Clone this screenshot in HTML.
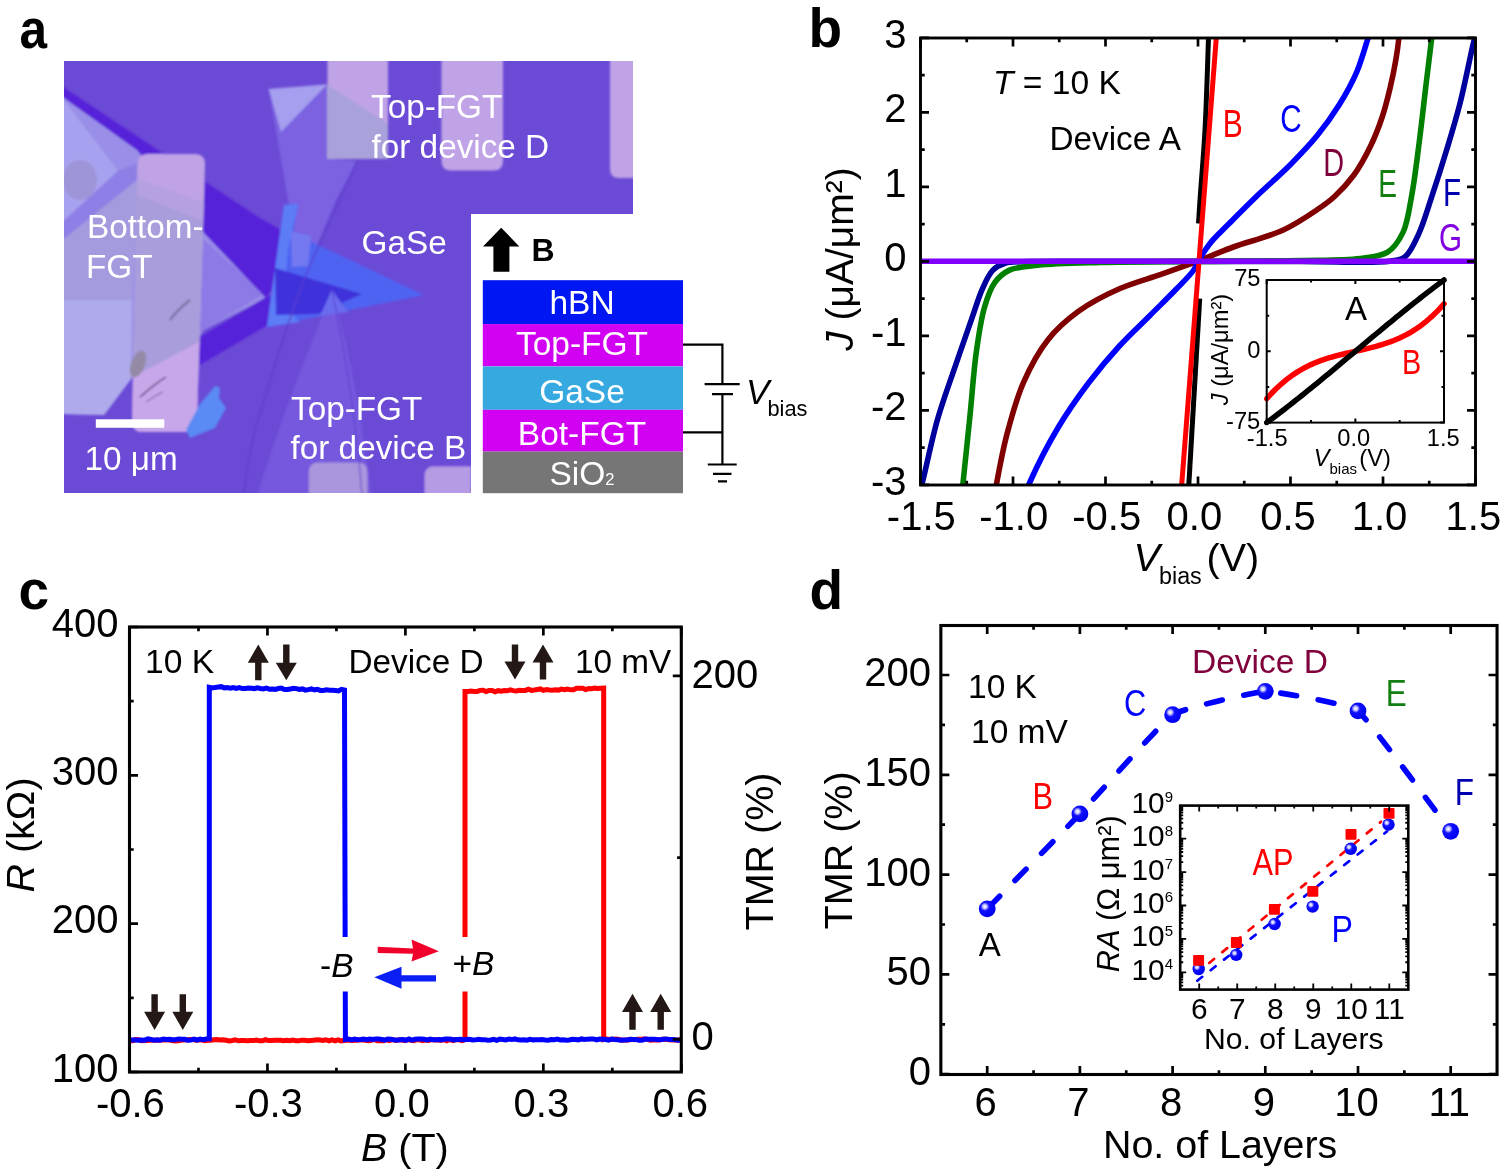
<!DOCTYPE html>
<html><head><meta charset="utf-8"><title>Figure</title>
<style>html,body{margin:0;padding:0;background:#fff;}body{width:1500px;height:1174px;overflow:hidden;}svg{display:block;will-change:transform;}text{font-family:"Liberation Sans",sans-serif;}</style>
</head><body>
<svg width="1500" height="1174" viewBox="0 0 1500 1174">
<rect width="1500" height="1174" fill="#fff"/>
<defs><clipPath id="cmic"><rect x="64" y="61" width="569" height="432"/></clipPath><filter id="blur1" x="-5%" y="-5%" width="110%" height="110%"><feGaussianBlur stdDeviation="1.2"/></filter><filter id="blur2" x="-5%" y="-5%" width="110%" height="110%"><feGaussianBlur stdDeviation="2.5"/></filter></defs>
<g clip-path="url(#cmic)">
<rect x="60" y="57" width="580" height="440" fill="#6b4ad6"/>
<g filter="url(#blur1)"><path d="M331.8,290 C318,330 290,390 256,500 L372,500 C362,420 350,350 331.8,290 Z" fill="#7459de"/><polygon points="268.6,89 327,84 327,159 357,161 336,200 317,245 300,262 289,205" fill="#7c62e1"/><polygon points="268.6,89 327,84.5 281,132" fill="#a69eee"/><polygon points="60,95 137,150 204,233 266,298 204,330 196,341 131,379 104,415 60,414" fill="#9a8fe8"/><polygon points="60,95 118,171 60,225" fill="#a7a2ef"/><polygon points="60,300 132,300 131,379 104,415 60,414" fill="#aeaaec"/><polygon points="60,240 137,178 137,190 132,300 60,300" fill="#a49bde"/><polygon points="60,224 118,171 137,163 137,180 60,242" fill="#8e7fe6"/><ellipse cx="80" cy="180" rx="17" ry="20" fill="#9d95d8"/><polygon points="200,236 264,294 200,332" fill="#8e7ae6"/><polygon points="60,85 137,136 204,181 260,218 292,236 292,262 266,298 204,233 137,150 60,95" fill="#5723d9"/><polygon points="195,340 266,297 292,290 292,322 266,326 195,368" fill="#5723d9"/><polygon points="267,327 284,205 298,204 293,233 424,295" fill="#5063f2"/><polygon points="267,327 284,205 298,204 288,250 283,305 300,322" fill="#5b7df6"/><polygon points="275,268 362,294 318,314 276,315" fill="#4033da"/><polygon points="291,231 311,236 308,266 292,267" fill="#7579f0"/><polygon points="331.8,290 320,316 348,312" fill="#6a6cef"/><clipPath id="celL"><path d="M137.5,164 Q137.5,154 147.5,154 L195,154 Q205,154 205,164 L197,420 Q196,432 186,432 L142,432 Q132,432 132,420 Z"/></clipPath><g clip-path="url(#celL)"><rect x="120" y="150" width="100" height="290" fill="#c0a3e6"/><polygon points="120,172 210,205 210,330 120,385" fill="#b5a0e2"/><polygon points="120,188 210,224 210,338 120,385" fill="#a99ddb"/><path d="M120,384 L210,336 L210,440 L120,440 Z" fill="#c7a7ea"/></g><path d="M327.5,55 L388,55 L388,148 Q388,159 378,159 L337,159 Q327.5,159 327.5,149 Z" fill="#c0a3e6"/><polygon points="327,84.5 388,124 388,159 327,159" fill="#a9a1d9"/><path d="M441.5,55 L503,55 L503,161 Q503,170.6 493.5,170.6 L451,170.6 Q441.5,170.6 441.5,161 Z" fill="#c0a3e6"/><path d="M610,55 L640,55 L640,178 L619,178 Q610,178 610,169 Z" fill="#c0a3e6"/><path d="M308.8,472 Q308.8,462.5 318.3,462.5 L358,462.5 Q367.5,462.5 367.5,472 L367.5,500 L308.8,500 Z" fill="#a996dc"/><path d="M424.4,476 Q424.4,466.3 434,466.3 L471,466.3 L471,500 L424.4,500 Z" fill="#b59be3"/><ellipse cx="138" cy="364" rx="7" ry="14" transform="rotate(20 138 364)" fill="#948aa6"/><path d="M140,397 C148,390 156,383 166,377" stroke="#4a2a5e" stroke-width="1.4" fill="none"/><path d="M146,402 C152,398 158,394 163,392" stroke="#5a3a70" stroke-width="0.9" fill="none"/><path d="M170,320 C176,312 182,306 190,300" stroke="#6a5f8a" stroke-width="2.2" fill="none" opacity="0.7"/><polygon points="186,430 200,404 215,386 220,388 219,398 226,408 215,428 190,438" fill="#5a8af3"/><path d="M357,161 C340,200 318,245 300,290 C285,330 270,380 255,430 C250,450 246,475 244,495" stroke="#5b3ccb" stroke-width="1.2" fill="none"/><path d="M331.8,290 C345,350 356,420 362,495" stroke="#5b3ccb" stroke-width="1" fill="none"/></g>
</g>
<rect x="471" y="214" width="170" height="285" fill="#fff"/>
<g font-family="Liberation Sans" font-size="33.3" fill="#fff">
<text x="87" y="237.7">Bottom-</text>
<text x="86" y="277.5">FGT</text>
<text x="371" y="118">Top-FGT</text>
<text x="371.5" y="158">for device D</text>
<text x="361.5" y="254">GaSe</text>
<text x="291" y="420.4">Top-FGT</text>
<text x="290.5" y="459.3">for device B</text>
<text x="84.5" y="470.4">10 μm</text>
</g>
<rect x="95.8" y="419.3" width="68.5" height="8.5" fill="#fff"/>
<rect x="482.8" y="280.2" width="200.2" height="43.9" fill="#0016f2"/>
<rect x="482.8" y="324.1" width="200.2" height="42.3" fill="#d200f2"/>
<rect x="482.8" y="366.4" width="200.2" height="43.4" fill="#36a9e1"/>
<rect x="482.8" y="409.8" width="200.2" height="41.8" fill="#d200f2"/>
<rect x="482.8" y="451.6" width="200.2" height="41.6" fill="#767676"/>
<g font-family="Liberation Sans" font-size="33.5" fill="#fff" text-anchor="middle">
<text x="582" y="313.8">hBN</text>
<text x="582" y="354.6">Top-FGT</text>
<text x="582" y="402.7">GaSe</text>
<text x="582" y="444.7">Bot-FGT</text>
<text x="582" y="484.8">SiO<tspan font-size="16.5">2</tspan></text>
</g>
<path d="M501.2,227.8 L519.3,246.4 L509.4,246.4 L509.4,271.8 L493.4,271.8 L493.4,246.4 L483,246.4 Z" fill="#000"/>
<text font-family="Liberation Sans" font-size="32" font-weight="bold" x="531.5" y="260.7">B</text>
<path d="M683,344.7 H722.4 V384.2 M704.6,384.2 H739.7 M712,394.1 H733 M722.4,394.1 V464.5 M683,432.4 H722.4 M707.8,464.5 H736.7 M713,473.9 H731.5 M718,481.3 H727" stroke="#000" stroke-width="2.2" fill="none"/>
<text font-family="Liberation Sans" font-size="35" font-style="italic" x="746" y="404">V</text>
<text font-family="Liberation Sans" font-size="21.8" x="767.5" y="416.3">bias</text>
<clipPath id="cb"><rect x="920.5" y="38" width="555" height="447"/></clipPath>
<g clip-path="url(#cb)" fill="none" stroke-width="5.6" stroke-linejoin="round">
<path d="M918,497C919.4,492.33 920.47,489.38 922.2,483C925.85,469.52 931.68,439.88 937.5,419.6C942.99,400.44 949.9,382.04 955.9,364.4C961.45,348.09 967.37,331.12 972.2,317.4C975.97,306.68 978.61,297.15 982.4,288.8C985.56,281.84 988.42,274.75 992.7,270.4C996.2,266.84 999.89,264.83 1004.9,263.3C1011.59,261.25 1019.53,261.97 1030,261.6C1047.47,260.98 1070.68,261.44 1100,261.4C1149.56,261.33 1246.47,261.46 1300,261.4C1335.91,261.36 1372.63,263.79 1390,261.2C1397.3,260.11 1400.84,260 1405.2,256.6C1410.74,252.28 1414.38,243.13 1418.4,234.6C1423.39,223.99 1427.14,210.51 1431.6,197.2C1436.65,182.14 1442.18,164.78 1447,148.8C1451.69,133.26 1456.03,119.03 1460.2,102.6C1464.89,84.11 1470.59,54.36 1473.4,43.2C1474.52,38.78 1475.13,37.07 1476,34" stroke="#00009c"/>
<path d="M961,500C961.67,494.33 962.16,490.59 963,483C964.7,467.67 967.92,435.94 970.2,413.5C972.34,392.43 973.66,371.01 976.3,352.2C978.58,335.99 980.78,319.77 984.5,307.2C987.33,297.62 990.08,289.07 994.7,282.7C998.6,277.33 1002.93,273.28 1009,270.4C1016.53,266.82 1026.18,266.57 1037.6,265.3C1054.34,263.44 1076.75,263.15 1100,262.5C1129.42,261.68 1166.67,261.73 1200,261.4C1233.33,261.07 1270.9,261.12 1300,260.5C1322.54,260.02 1343.91,260.58 1360,258.5C1371.05,257.07 1380.33,256.83 1387.6,252.2C1394.44,247.84 1399.1,240.55 1403,232.4C1407.82,222.31 1409.23,208.73 1411.8,195C1414.89,178.49 1417.13,158.35 1419.5,140C1421.86,121.68 1423.9,102.53 1426,85C1427.92,68.93 1430.39,49.69 1431.6,38.8C1432.26,32.86 1432.53,29.6 1433,25" stroke="#008000"/>
<path d="M994,500C994.9,494.33 995.39,490.11 996.7,483C998.94,470.87 1002.68,450.4 1007,434C1011.48,417.01 1016.29,398.77 1023.3,382.8C1030.02,367.49 1038.1,352.14 1047.8,339.9C1056.73,328.62 1066.96,319.65 1078.5,311.3C1090.68,302.49 1105.51,294.99 1119.4,288.8C1132.76,282.85 1148.13,278.84 1160.2,274.6C1169.84,271.22 1179.15,267.97 1186.2,265.4C1191.07,263.63 1194.33,262.4 1198.5,260.8C1202.83,259.14 1206.76,257.56 1211.7,255.6C1218.02,253.1 1224.56,250.22 1233.3,247C1246.47,242.14 1268.62,236.8 1283.3,230C1295.9,224.17 1307.47,216.22 1316.7,210C1323.65,205.32 1328.52,201.99 1334.3,196.7C1340.95,190.61 1348.01,183.1 1353.9,175C1360.2,166.33 1365.83,155.84 1370.6,146C1375.21,136.49 1378.93,126.76 1382.2,117C1385.41,107.42 1387.79,97.7 1390.1,88C1392.39,78.37 1394.49,67.83 1396,59C1397.25,51.65 1398.11,44.81 1398.8,38.7C1399.36,33.69 1399.6,29.57 1400,25" stroke="#800000"/>
<path d="M1025,495C1026.5,491 1027.12,488.36 1029.5,483C1034.74,471.2 1047.76,444.97 1058,427.8C1067.59,411.72 1078.12,396.81 1088.7,382.8C1098.63,369.66 1108.91,357.48 1119.4,346C1129.37,335.09 1140.16,325.24 1150,315.4C1159.18,306.22 1168.82,296.92 1176.6,288.8C1182.92,282.2 1189.62,275.82 1193.4,270.5C1195.89,266.99 1196.6,264.29 1198.5,261C1200.62,257.32 1203.24,252.95 1205.6,249.5C1207.64,246.51 1209.43,244.09 1211.7,241.4C1214.16,238.48 1216.86,235.83 1219.9,232.7C1223.56,228.93 1227.44,225.14 1232.2,220.4C1238.75,213.88 1246.94,205.55 1255.6,197.2C1266.08,187.1 1280.09,175 1290.8,164.2C1300.42,154.5 1309.09,145.58 1317.2,135.6C1325.2,125.76 1332.58,115.47 1339.2,104.8C1345.78,94.2 1351.98,83.01 1356.8,71.8C1361.44,60.99 1365.04,47.45 1367.8,38.8C1369.58,33.23 1370.6,29.6 1372,25" stroke="#0000ff"/>
<path d="M1188.5,490 L1199.7,298.6" stroke="#000" stroke-width="5"/>
<path d="M1198.5,223.5C1199,215.67 1199.33,209.92 1200,200C1201.16,182.88 1203.64,154.94 1205,130C1206.56,101.44 1207.91,53.21 1208.5,38C1208.7,32.99 1208.77,31.33 1208.9,28" stroke="#000" stroke-width="5"/>
<path d="M1181.3,490 L1216.9,30" stroke="#ff0000" stroke-width="5"/>
<path d="M920,261.2 L1476,261.2" stroke="#8000ff" stroke-width="5.5"/>
</g>
<rect x="920.5" y="38" width="555" height="447" fill="none" stroke="#000" stroke-width="2.9"/>
<path d="M920.5,485 v-8.5 M920.5,38 v8.5 M966.75,485 v-4.2 M966.75,38 v4.2 M1013,485 v-8.5 M1013,38 v8.5 M1059.25,485 v-4.2 M1059.25,38 v4.2 M1105.5,485 v-8.5 M1105.5,38 v8.5 M1151.75,485 v-4.2 M1151.75,38 v4.2 M1198,485 v-8.5 M1198,38 v8.5 M1244.25,485 v-4.2 M1244.25,38 v4.2 M1290.5,485 v-8.5 M1290.5,38 v8.5 M1336.75,485 v-4.2 M1336.75,38 v4.2 M1383,485 v-8.5 M1383,38 v8.5 M1429.25,485 v-4.2 M1429.25,38 v4.2 M1475.5,485 v-8.5 M1475.5,38 v8.5 M920.5,484.9 h8.5 M1475.5,484.9 h-8.5 M920.5,447.65 h4.2 M1475.5,447.65 h-4.2 M920.5,410.4 h8.5 M1475.5,410.4 h-8.5 M920.5,373.15 h4.2 M1475.5,373.15 h-4.2 M920.5,335.9 h8.5 M1475.5,335.9 h-8.5 M920.5,298.65 h4.2 M1475.5,298.65 h-4.2 M920.5,261.4 h8.5 M1475.5,261.4 h-8.5 M920.5,224.15 h4.2 M1475.5,224.15 h-4.2 M920.5,186.9 h8.5 M1475.5,186.9 h-8.5 M920.5,149.65 h4.2 M1475.5,149.65 h-4.2 M920.5,112.4 h8.5 M1475.5,112.4 h-8.5 M920.5,75.15 h4.2 M1475.5,75.15 h-4.2 M920.5,37.9 h8.5 M1475.5,37.9 h-8.5" stroke="#000" stroke-width="2.7" fill="none"/>
<g font-family="Liberation Sans" font-size="40" fill="#000">
<text x="906.5" y="47.5" text-anchor="end">3</text>
<text x="906.5" y="122" text-anchor="end">2</text>
<text x="906.5" y="196.5" text-anchor="end">1</text>
<text x="906.5" y="271" text-anchor="end">0</text>
<text x="906.5" y="345.5" text-anchor="end">-1</text>
<text x="906.5" y="420" text-anchor="end">-2</text>
<text x="906.5" y="494.5" text-anchor="end">-3</text>
<text x="921.3" y="530" text-anchor="middle">-1.5</text>
<text x="1013.7" y="530" text-anchor="middle">-1.0</text>
<text x="1106.7" y="530" text-anchor="middle">-0.5</text>
<text x="1194.4" y="530" text-anchor="middle">0.0</text>
<text x="1288" y="530" text-anchor="middle">0.5</text>
<text x="1379.5" y="530" text-anchor="middle">1.0</text>
<text x="1473.4" y="530" text-anchor="middle">1.5</text>
</g>
<text font-family="Liberation Sans" font-size="39.5" x="1133.6" y="571.4"><tspan font-style="italic">V</tspan></text>
<text font-family="Liberation Sans" font-size="23.3" x="1159" y="584.3">bias</text>
<text font-family="Liberation Sans" font-size="39.5" x="1206.5" y="571.4">(V)</text>
<text font-family="Liberation Sans" font-size="39" transform="translate(852.5,259) rotate(-90)" text-anchor="middle"><tspan font-style="italic">J</tspan> (μA/μm²)</text>
<text font-family="Liberation Sans" font-size="33.6" x="993" y="94.3"><tspan font-style="italic">T</tspan> = 10 K</text>
<text font-family="Liberation Sans" font-size="33.3" x="1049.5" y="150">Device A</text>
<text font-family="Liberation Sans" font-size="38" fill="#ff0000" transform="translate(1222.7,136.7) scale(0.79,1)">B</text>
<text font-family="Liberation Sans" font-size="38" fill="#0000ff" transform="translate(1280.2,132.3) scale(0.78,1)">C</text>
<text font-family="Liberation Sans" font-size="38" fill="#80003c" transform="translate(1323.2,176.3) scale(0.76,1)">D</text>
<text font-family="Liberation Sans" font-size="38" fill="#137f13" transform="translate(1378.2,197.2) scale(0.74,1)">E</text>
<text font-family="Liberation Sans" font-size="38" fill="#0000b0" transform="translate(1443,206) scale(0.78,1)">F</text>
<text font-family="Liberation Sans" font-size="38" fill="#8000e0" transform="translate(1439,251.1) scale(0.78,1)">G</text>
<rect x="1266.7" y="280" width="177.3" height="142.6" fill="#fff" stroke="none"/>
<clipPath id="cib"><rect x="1263.7" y="277" width="183.3" height="148.6"/></clipPath>
<g clip-path="url(#cib)" fill="none" stroke-linecap="round">
<path d="M1266.7,398.8 L1269.65,395.45 L1272.61,392.28 L1275.57,389.29 L1278.52,386.46 L1281.48,383.8 L1284.43,381.29 L1287.38,378.92 L1290.34,376.7 L1293.3,374.62 L1296.25,372.66 L1299.2,370.83 L1302.16,369.12 L1305.12,367.51 L1308.07,366.02 L1311.03,364.62 L1313.98,363.31 L1316.93,362.09 L1319.89,360.95 L1322.85,359.89 L1325.8,358.89 L1328.76,357.95 L1331.71,357.08 L1334.66,356.25 L1337.62,355.46 L1340.58,354.71 L1343.53,353.99 L1346.49,353.3 L1349.44,352.62 L1352.39,351.96 L1355.35,351.3 L1358.31,350.64 L1361.26,349.98 L1364.21,349.3 L1367.17,348.61 L1370.12,347.89 L1373.08,347.14 L1376.04,346.35 L1378.99,345.52 L1381.94,344.65 L1384.9,343.71 L1387.86,342.71 L1390.81,341.65 L1393.77,340.51 L1396.72,339.29 L1399.67,337.98 L1402.63,336.58 L1405.59,335.09 L1408.54,333.48 L1411.5,331.77 L1414.45,329.94 L1417.4,327.98 L1420.36,325.9 L1423.32,323.68 L1426.27,321.31 L1429.22,318.8 L1432.18,316.14 L1435.13,313.31 L1438.09,310.32 L1441.05,307.15 L1444,303.8" stroke="#ff0000" stroke-width="5.5"/>
<path d="M1266.7,422.6 L1269.65,420.41 L1272.61,418.21 L1275.57,415.98 L1278.52,413.74 L1281.48,411.48 L1284.43,409.21 L1287.38,406.91 L1290.34,404.61 L1293.3,402.28 L1296.25,399.95 L1299.2,397.6 L1302.16,395.24 L1305.12,392.86 L1308.07,390.48 L1311.03,388.08 L1313.98,385.67 L1316.93,383.26 L1319.89,380.83 L1322.85,378.4 L1325.8,375.96 L1328.76,373.51 L1331.71,371.06 L1334.66,368.6 L1337.62,366.14 L1340.58,363.67 L1343.53,361.2 L1346.49,358.73 L1349.44,356.25 L1352.39,353.78 L1355.35,351.3 L1358.31,348.82 L1361.26,346.35 L1364.21,343.87 L1367.17,341.4 L1370.12,338.93 L1373.08,336.46 L1376.04,334 L1378.99,331.54 L1381.94,329.09 L1384.9,326.64 L1387.86,324.2 L1390.81,321.77 L1393.77,319.34 L1396.72,316.93 L1399.67,314.52 L1402.63,312.12 L1405.59,309.74 L1408.54,307.36 L1411.5,305 L1414.45,302.65 L1417.4,300.32 L1420.36,297.99 L1423.32,295.69 L1426.27,293.39 L1429.22,291.12 L1432.18,288.86 L1435.13,286.62 L1438.09,284.39 L1441.05,282.19 L1444,280" stroke="#000" stroke-width="5.5"/>
</g>
<rect x="1266.7" y="280" width="177.3" height="142.6" fill="none" stroke="#000" stroke-width="2"/>
<path d="M1266.7,422.6 v-4 M1266.7,280 v4 M1311.03,422.6 v-2.5 M1311.03,280 v2.5 M1355.35,422.6 v-4 M1355.35,280 v4 M1399.67,422.6 v-2.5 M1399.67,280 v2.5 M1444,422.6 v-4 M1444,280 v4 M1266.7,422.6 h4 M1444,422.6 h-4 M1266.7,386.95 h2.5 M1444,386.95 h-2.5 M1266.7,351.3 h4 M1444,351.3 h-4 M1266.7,315.65 h2.5 M1444,315.65 h-2.5 M1266.7,280 h4 M1444,280 h-4" stroke="#000" stroke-width="2" fill="none"/>
<g font-family="Liberation Sans" font-size="23.7">
<text x="1260.5" y="286" text-anchor="end">75</text>
<text x="1260.5" y="358.4" text-anchor="end">0</text>
<text x="1260.3" y="428.8" text-anchor="end">-75</text>
<text x="1267.2" y="446.4" text-anchor="middle">-1.5</text>
<text x="1353.8" y="446.4" text-anchor="middle">0.0</text>
<text x="1443.3" y="446.4" text-anchor="middle">1.5</text>
</g>
<text font-family="Liberation Sans" font-size="23.7" font-style="italic" x="1313.8" y="465.6">V</text>
<text font-family="Liberation Sans" font-size="15" x="1329.5" y="473.6">bias</text>
<text font-family="Liberation Sans" font-size="23.7" x="1359.3" y="465.6">(V)</text>
<text font-family="Liberation Sans" font-size="23.7" transform="translate(1228,349.5) rotate(-90)" text-anchor="middle"><tspan font-style="italic">J</tspan> (μA/μm²)</text>
<text font-family="Liberation Sans" font-size="33" x="1345" y="320">A</text>
<text font-family="Liberation Sans" font-size="36" fill="#ff0000" transform="translate(1402,374) scale(0.8,1)">B</text>
<g fill="none" stroke-width="5" stroke-linejoin="miter">
<path d="M129.5,1040.84 L132.52,1040.83 L135.55,1039.58 L138.57,1039.62 L141.59,1040.67 L144.61,1040.53 L147.64,1040.44 L150.66,1039.93 L153.68,1040.35 L156.7,1040.35 L159.73,1040.31 L162.75,1039.72 L165.77,1040.1 L168.79,1040.05 L171.82,1040.51 L174.84,1040.89 L177.86,1040.83 L180.88,1040.26 L183.91,1040.12 L186.93,1039.88 L189.95,1039.55 L192.97,1039.54 L196,1040.15 L199.02,1039.95 L202.04,1040.03 L205.06,1040.75 L208.09,1040.24 L211.11,1040.28 L214.13,1039.83 L217.15,1039.53 L220.18,1039.96 L223.2,1039.69 L226.22,1040.21 L229.24,1040.9 L232.27,1040.44 L235.29,1039.75 L238.31,1040.75 L241.33,1040.62 L244.36,1040.53 L247.38,1040.77 L250.4,1040.57 L253.42,1040.61 L256.45,1040 L259.47,1040.87 L262.49,1040.85 L265.51,1039.73 L268.54,1040.56 L271.56,1040.5 L274.58,1040.15 L277.6,1040.24 L280.63,1040.19 L283.65,1040.79 L286.67,1040.2 L289.69,1040.66 L292.72,1040 L295.74,1040.74 L298.76,1040.76 L301.78,1040.15 L304.81,1040.29 L307.83,1040.79 L310.85,1040.51 L313.87,1040.18 L316.9,1039.81 L319.92,1039.95 L322.94,1040.48 L325.96,1039.73 L328.99,1040.77 L332.01,1039.88 L335.03,1040.78 L338.05,1039.93 L341.08,1040.84 L344.1,1040.49 L347.12,1040.21 L350.14,1040.22 L353.17,1040.41 L356.19,1040.32 L359.21,1039.94 L362.23,1039.79 L365.26,1040.22 L368.28,1040.81 L371.3,1040.37 L374.32,1039.61 L377.35,1040.65 L380.37,1040.52 L383.39,1040.77 L386.41,1039.77 L389.44,1040.54 L392.46,1039.58 L395.48,1040.41 L398.5,1039.88 L401.53,1039.82 L404.55,1040.73 L407.57,1039.65 L410.59,1040.23 L413.62,1040.7 L416.64,1039.84 L419.66,1039.79 L422.68,1040.73 L425.71,1040.09 L428.73,1040.5 L431.75,1039.54 L434.77,1040.01 L437.8,1039.74 L440.82,1040.44 L443.84,1039.62 L446.86,1040.84 L449.89,1039.54 L452.91,1040.52 L455.93,1039.53 L458.95,1039.86 L461.98,1040.64 L465,1039.72 L465,691.5 L468.02,691.51 L471.03,691.13 L474.05,691.48 L477.06,691.45 L480.08,690.37 L483.09,690.21 L486.11,691.62 L489.12,690.51 L492.14,690.4 L495.15,691.7 L498.17,690.68 L501.18,691.27 L504.2,690.55 L507.21,690.78 L510.23,689.83 L513.24,690.63 L516.26,690.98 L519.27,690.29 L522.29,690.61 L525.3,690.42 L528.32,689.25 L531.33,690.43 L534.35,690.06 L537.37,689.47 L540.38,688.92 L543.4,690.35 L546.41,689.57 L549.43,689.95 L552.44,690.16 L555.46,689.8 L558.47,690.1 L561.49,689.08 L564.5,689.75 L567.52,689.04 L570.53,689.85 L573.55,689.68 L576.56,688.2 L579.58,688.2 L582.59,688.28 L585.61,689.56 L588.62,688.53 L591.64,688.81 L594.65,688.15 L597.67,688.45 L600.68,688.16 L603.7,688.03 L603.7,1039.6 L606.8,1039.04 L609.91,1039.45 L613.01,1039.12 L616.12,1038.99 L619.22,1039.46 L622.32,1040.19 L625.43,1040.02 L628.53,1039.97 L631.64,1039.21 L634.74,1039.65 L637.84,1039.29 L640.95,1039.14 L644.05,1039.05 L647.16,1039.2 L650.26,1040.2 L653.36,1040.06 L656.47,1040.03 L659.57,1040.02 L662.68,1039.17 L665.78,1039.33 L668.88,1039.78 L671.99,1039.92 L675.09,1040.1 L678.2,1040.13 L681.3,1039.02" stroke="#ff0000"/>
<path d="M129.5,1039.77 L132.57,1039.94 L135.64,1040.01 L138.71,1040.22 L141.78,1039.94 L144.85,1040.19 L147.92,1038.94 L150.98,1039.55 L154.05,1040.22 L157.12,1039.81 L160.19,1040.16 L163.26,1039.06 L166.33,1039.56 L169.4,1039.25 L172.47,1039.66 L175.54,1039.7 L178.61,1038.92 L181.68,1039.2 L184.75,1039.29 L187.82,1040.18 L190.88,1039.97 L193.95,1039.12 L197.02,1040.02 L200.09,1039.09 L203.16,1039.76 L206.23,1039.08 L209.3,1038.9 L209.3,687.3 L212.3,687.94 L215.31,687.4 L218.31,687.06 L221.32,686.66 L224.32,687.92 L227.33,687.63 L230.33,688.22 L233.34,687.59 L236.34,688.37 L239.34,687.54 L242.35,688.55 L245.35,688.49 L248.36,687.98 L251.36,688.27 L254.37,688.59 L257.37,687.78 L260.38,688.49 L263.38,689.01 L266.38,688.1 L269.39,689.13 L272.39,688.99 L275.4,689.34 L278.4,688.49 L281.41,688.11 L284.41,689.45 L287.42,689.52 L290.42,688.94 L293.42,688.37 L296.43,688.62 L299.43,689.48 L302.44,688.92 L305.44,690.17 L308.45,689.59 L311.45,688.95 L314.46,689.84 L317.46,689.37 L320.46,690.46 L323.47,690.49 L326.47,689.84 L329.48,690.14 L332.48,690.3 L335.49,690.56 L338.49,690.93 L341.5,689.29 L344.5,689.95 L345.4,1039.6 L348.43,1039.11 L351.45,1039.81 L354.48,1039 L357.5,1039.65 L360.53,1039.41 L363.56,1038.98 L366.58,1039.61 L369.61,1038.95 L372.64,1039.51 L375.66,1039 L378.69,1039.03 L381.71,1039.49 L384.74,1040.06 L387.77,1039.07 L390.79,1039.21 L393.82,1039.78 L396.84,1040.23 L399.87,1039.71 L402.9,1039.46 L405.92,1040.27 L408.95,1038.97 L411.97,1040.1 L415,1039.31 L418.03,1039.1 L421.05,1039.06 L424.08,1039.33 L427.11,1040.04 L430.13,1039.15 L433.16,1039.71 L436.18,1039.79 L439.21,1039.42 L442.24,1039.67 L445.26,1038.99 L448.29,1038.98 L451.31,1039.19 L454.34,1039.85 L457.37,1039.5 L460.39,1039.34 L463.42,1039.72 L466.45,1039.53 L469.47,1039.32 L472.5,1040.01 L475.52,1039.88 L478.55,1039.24 L481.58,1039.7 L484.6,1039.64 L487.63,1040.13 L490.65,1039.92 L493.68,1039.3 L496.71,1040.27 L499.73,1039.07 L502.76,1039.49 L505.78,1039.96 L508.81,1039.11 L511.84,1039.58 L514.86,1038.95 L517.89,1039.84 L520.92,1039.97 L523.94,1039.7 L526.97,1040.13 L529.99,1039.34 L533.02,1039.87 L536.05,1039.73 L539.07,1039.71 L542.1,1039.54 L545.12,1040.08 L548.15,1040.22 L551.18,1039.56 L554.2,1039.83 L557.23,1038.98 L560.25,1039.88 L563.28,1039.81 L566.31,1040.29 L569.33,1040.05 L572.36,1039.3 L575.39,1039.44 L578.41,1039.84 L581.44,1038.93 L584.46,1039.55 L587.49,1039.14 L590.52,1039.06 L593.54,1038.98 L596.57,1039.98 L599.59,1039.08 L602.62,1039.25 L605.65,1039.45 L608.67,1040.12 L611.7,1039.01 L614.73,1039.53 L617.75,1039.67 L620.78,1040.14 L623.8,1040.05 L626.83,1040.11 L629.86,1039.29 L632.88,1039.48 L635.91,1039.4 L638.93,1040.14 L641.96,1040.24 L644.99,1039.11 L648.01,1039.15 L651.04,1039.22 L654.06,1039.23 L657.09,1039.58 L660.12,1039.72 L663.14,1039.27 L666.17,1038.91 L669.2,1039.49 L672.22,1039.42 L675.25,1039.69 L678.27,1040.23 L681.3,1039.87" stroke="#0000ff"/>
</g>
<rect x="318" y="937" width="38" height="54.5" fill="#fff"/>
<rect x="452" y="937" width="45" height="54.5" fill="#fff"/>
<rect x="129.5" y="627" width="551.8" height="445" fill="none" stroke="#000" stroke-width="3.1"/>
<path d="M129.5,1072 v-8.5 M129.5,627 v8.5 M198.48,1072 v-4.2 M198.48,627 v4.2 M267.45,1072 v-8.5 M267.45,627 v8.5 M336.42,1072 v-4.2 M336.42,627 v4.2 M405.4,1072 v-8.5 M405.4,627 v8.5 M474.38,1072 v-4.2 M474.38,627 v4.2 M543.35,1072 v-8.5 M543.35,627 v8.5 M612.33,1072 v-4.2 M612.33,627 v4.2 M681.3,1072 v-8.5 M681.3,627 v8.5 M129.5,1072 h8.5 M129.5,997.83 h4.2 M129.5,923.67 h8.5 M129.5,849.5 h4.2 M129.5,775.33 h8.5 M129.5,701.17 h4.2 M129.5,627 h8.5 M681.3,1039.3 h-8.5 M681.3,857.55 h-4.2 M681.3,675.8 h-8.5" stroke="#000" stroke-width="2.7" fill="none"/>
<g font-family="Liberation Sans" font-size="40">
<text x="118.5" y="636.8" text-anchor="end">400</text>
<text x="118.5" y="785.13" text-anchor="end">300</text>
<text x="118.5" y="933.47" text-anchor="end">200</text>
<text x="118.5" y="1081.8" text-anchor="end">100</text>
<text x="130.4" y="1116.5" text-anchor="middle">-0.6</text>
<text x="268.35" y="1116.5" text-anchor="middle">-0.3</text>
<text x="401.9" y="1116.5" text-anchor="middle">0.0</text>
<text x="541.35" y="1116.5" text-anchor="middle">0.3</text>
<text x="680.3" y="1116.5" text-anchor="middle">0.6</text>
<text x="691.5" y="687.5">200</text>
<text x="691.5" y="1050">0</text>
</g>
<text font-family="Liberation Sans" font-size="39.5" x="361" y="1161.2"><tspan font-style="italic">B</tspan> (T)</text>
<text font-family="Liberation Sans" font-size="39.5" transform="translate(33.5,835) rotate(-90)" text-anchor="middle"><tspan font-style="italic">R</tspan> (kΩ)</text>
<text font-family="Liberation Sans" font-size="39.5" transform="translate(772.5,851.5) rotate(-90)" text-anchor="middle">TMR (%)</text>
<text font-family="Liberation Sans" font-size="33.6" x="145" y="672.5">10 K</text>
<text font-family="Liberation Sans" font-size="33.3" x="348.5" y="673.2">Device D</text>
<text font-family="Liberation Sans" font-size="33.3" x="575" y="673.2">10 mV</text>
<text font-family="Liberation Sans" font-size="33.5" x="320" y="977"><tspan>-</tspan><tspan font-style="italic">B</tspan></text>
<text font-family="Liberation Sans" font-size="33.5" x="452.5" y="975">+<tspan font-style="italic">B</tspan></text>
<path d="M258.3,644.5 L268.8,662.7 L261.5,662.7 L261.5,680.2 L255.1,680.2 L255.1,662.7 L247.8,662.7 Z" fill="#231815"/>
<path d="M286.3,680.2 L296.8,662.7 L289.5,662.7 L289.5,644.5 L283.1,644.5 L283.1,662.7 L275.8,662.7 Z" fill="#231815"/>
<path d="M515,679.5 L525.5,661.5 L518.2,661.5 L518.2,644.5 L511.8,644.5 L511.8,661.5 L504.5,661.5 Z" fill="#231815"/>
<path d="M543,644.5 L553.5,662.5 L546.2,662.5 L546.2,679.5 L539.8,679.5 L539.8,662.5 L532.5,662.5 Z" fill="#231815"/>
<path d="M154.6,1030 L165.1,1011.7 L157.8,1011.7 L157.8,994.2 L151.4,994.2 L151.4,1011.7 L144.1,1011.7 Z" fill="#231815"/>
<path d="M182.8,1030 L193.3,1011.7 L186,1011.7 L186,994.2 L179.6,994.2 L179.6,1011.7 L172.3,1011.7 Z" fill="#231815"/>
<path d="M632.5,993.7 L643,1012 L635.7,1012 L635.7,1029.8 L629.3,1029.8 L629.3,1012 L622,1012 Z" fill="#231815"/>
<path d="M660.7,993.7 L671.2,1012 L663.9,1012 L663.9,1029.8 L657.5,1029.8 L657.5,1012 L650.2,1012 Z" fill="#231815"/>
<path d="M377.7,946.8 L413,948.5 L411.5,939.6 L438.9,951.3 L411.5,961.6 L413,953.8 L377.7,953 Z" fill="#f0002a"/>
<path d="M436,975.3 L401.5,975.3 L401.5,966.7 L374.3,977.2 L401.5,988.7 L401.5,981.5 L436,981.5 Z" fill="#0a1ef5"/>
<defs><radialGradient id="sph" cx="0.36" cy="0.36" r="0.64" fx="0.36" fy="0.36"><stop offset="0" stop-color="#ffffff"/><stop offset="0.18" stop-color="#c8c8ff"/><stop offset="0.4" stop-color="#1010ff"/><stop offset="1" stop-color="#0000f0"/></radialGradient></defs>
<path d="M987.2,908.93C991.84,904.18 1070.63,823.63 1079.9,813.92C1089.17,804.21 1163.33,720.85 1172.6,714.72C1181.87,708.59 1256.03,691.56 1265.3,691.37C1274.57,691.18 1348.73,703.93 1358,710.93C1367.27,717.92 1446.07,825.27 1450.7,831.29" fill="none" stroke="#0000ff" stroke-width="5.6" stroke-linecap="round" stroke-dasharray="16 21.8" stroke-dashoffset="-2"/>
<rect x="940.85" y="625.5" width="556.2" height="449" fill="none" stroke="#000" stroke-width="3.1"/>
<path d="M987.2,1074.5 v-8.5 M987.2,625.5 v8.5 M1033.55,1074.5 v-4.2 M1033.55,625.5 v4.2 M1079.9,1074.5 v-8.5 M1079.9,625.5 v8.5 M1126.25,1074.5 v-4.2 M1126.25,625.5 v4.2 M1172.6,1074.5 v-8.5 M1172.6,625.5 v8.5 M1218.95,1074.5 v-4.2 M1218.95,625.5 v4.2 M1265.3,1074.5 v-8.5 M1265.3,625.5 v8.5 M1311.65,1074.5 v-4.2 M1311.65,625.5 v4.2 M1358,1074.5 v-8.5 M1358,625.5 v8.5 M1404.35,1074.5 v-4.2 M1404.35,625.5 v4.2 M1450.7,1074.5 v-8.5 M1450.7,625.5 v8.5 M940.85,1074.2 h8.5 M1497.05,1074.2 h-8.5 M940.85,1024.3 h4.2 M1497.05,1024.3 h-4.2 M940.85,974.4 h8.5 M1497.05,974.4 h-8.5 M940.85,924.5 h4.2 M1497.05,924.5 h-4.2 M940.85,874.6 h8.5 M1497.05,874.6 h-8.5 M940.85,824.7 h4.2 M1497.05,824.7 h-4.2 M940.85,774.8 h8.5 M1497.05,774.8 h-8.5 M940.85,724.9 h4.2 M1497.05,724.9 h-4.2 M940.85,675 h8.5 M1497.05,675 h-8.5" stroke="#000" stroke-width="2.7" fill="none"/>
<g font-family="Liberation Sans" font-size="40">
<text x="931" y="1085.2" text-anchor="end">0</text>
<text x="931" y="985.4" text-anchor="end">50</text>
<text x="931" y="885.6" text-anchor="end">100</text>
<text x="931" y="785.8" text-anchor="end">150</text>
<text x="931" y="686" text-anchor="end">200</text>
<text x="985.7" y="1115.5" text-anchor="middle">6</text>
<text x="1078.4" y="1115.5" text-anchor="middle">7</text>
<text x="1171.1" y="1115.5" text-anchor="middle">8</text>
<text x="1263.8" y="1115.5" text-anchor="middle">9</text>
<text x="1356.5" y="1115.5" text-anchor="middle">10</text>
<text x="1449.2" y="1115.5" text-anchor="middle">11</text>
</g>
<text font-family="Liberation Sans" font-size="39.4" x="1103" y="1158">No. of Layers</text>
<text font-family="Liberation Sans" font-size="39.5" transform="translate(851.9,850.4) rotate(-90)" text-anchor="middle">TMR (%)</text>
<text font-family="Liberation Sans" font-size="33.5" x="968" y="697.5">10 K</text>
<text font-family="Liberation Sans" font-size="33.5" x="971" y="742.5">10 mV</text>
<text font-family="Liberation Sans" font-size="33.5" fill="#80003c" x="1192" y="672.6">Device D</text>
<text font-family="Liberation Sans" font-size="33" x="978.8" y="955.8">A</text>
<text font-family="Liberation Sans" font-size="37.5" fill="#ff0000" transform="translate(1032.5,808.6) scale(0.82,1)">B</text>
<text font-family="Liberation Sans" font-size="37.5" fill="#0000ff" transform="translate(1124,715.9) scale(0.82,1)">C</text>
<text font-family="Liberation Sans" font-size="37.5" fill="#137f13" transform="translate(1385.8,705.7) scale(0.84,1)">E</text>
<text font-family="Liberation Sans" font-size="37.5" fill="#0000b0" transform="translate(1454.8,804.7) scale(0.84,1)">F</text>
<circle cx="987.2" cy="908.93" r="8.4" fill="url(#sph)"/>
<circle cx="1079.9" cy="813.92" r="8.4" fill="url(#sph)"/>
<circle cx="1172.6" cy="714.72" r="8.4" fill="url(#sph)"/>
<circle cx="1265.3" cy="691.37" r="8.4" fill="url(#sph)"/>
<circle cx="1358" cy="710.93" r="8.4" fill="url(#sph)"/>
<circle cx="1450.7" cy="831.29" r="8.4" fill="url(#sph)"/>
<rect x="1180.2" y="805.6" width="228.1" height="184" fill="#fff"/>
<path d="M1203,968 L1381,821.7" stroke="#ff0000" stroke-width="2.7" stroke-linecap="round" stroke-dasharray="6.3 10.7" fill="none" stroke-dashoffset="-8"/>
<path d="M1197.3,980.7 L1387,831.4" stroke="#0000ff" stroke-width="2.7" stroke-linecap="round" stroke-dasharray="6.3 10.7" fill="none"/>
<circle cx="1198.7" cy="969" r="6.2" fill="url(#sph)"/>
<circle cx="1236.2" cy="954.9" r="6.2" fill="url(#sph)"/>
<circle cx="1274.6" cy="924" r="6.2" fill="url(#sph)"/>
<circle cx="1312.6" cy="906.6" r="6.2" fill="url(#sph)"/>
<circle cx="1350.7" cy="848.8" r="6.2" fill="url(#sph)"/>
<circle cx="1388.5" cy="824.6" r="6.2" fill="url(#sph)"/>
<rect x="1193.1" y="955" width="11" height="10.8" rx="1" fill="#ff0000"/>
<rect x="1230.9" y="937.1" width="11" height="10.8" rx="1" fill="#ff0000"/>
<rect x="1268.9" y="903.9" width="11" height="10.8" rx="1" fill="#ff0000"/>
<rect x="1307.3" y="885.9" width="11" height="10.8" rx="1" fill="#ff0000"/>
<rect x="1345.5" y="828.9" width="11" height="10.8" rx="1" fill="#ff0000"/>
<rect x="1383.5" y="807.9" width="11" height="10.8" rx="1" fill="#ff0000"/>
<rect x="1180.2" y="805.6" width="228.1" height="184" fill="none" stroke="#000" stroke-width="2.6"/>
<path d="M1199.21,989.6 v-6 M1199.21,805.6 v6 M1218.22,989.6 v-3 M1218.22,805.6 v3 M1237.22,989.6 v-6 M1237.22,805.6 v6 M1256.23,989.6 v-3 M1256.23,805.6 v3 M1275.24,989.6 v-6 M1275.24,805.6 v6 M1294.25,989.6 v-3 M1294.25,805.6 v3 M1313.26,989.6 v-6 M1313.26,805.6 v6 M1332.27,989.6 v-3 M1332.27,805.6 v3 M1351.28,989.6 v-6 M1351.28,805.6 v6 M1370.28,989.6 v-3 M1370.28,805.6 v3 M1389.29,989.6 v-6 M1389.29,805.6 v6 M1180.2,985.59 h3 M1408.3,985.59 h-3 M1180.2,982.35 h3 M1408.3,982.35 h-3 M1180.2,979.71 h3 M1408.3,979.71 h-3 M1180.2,977.47 h3 M1408.3,977.47 h-3 M1180.2,975.54 h3 M1408.3,975.54 h-3 M1180.2,973.83 h3 M1408.3,973.83 h-3 M1180.2,972.3 h6 M1408.3,972.3 h-6 M1180.2,962.25 h3 M1408.3,962.25 h-3 M1180.2,956.36 h3 M1408.3,956.36 h-3 M1180.2,952.19 h3 M1408.3,952.19 h-3 M1180.2,948.95 h3 M1408.3,948.95 h-3 M1180.2,946.31 h3 M1408.3,946.31 h-3 M1180.2,944.07 h3 M1408.3,944.07 h-3 M1180.2,942.14 h3 M1408.3,942.14 h-3 M1180.2,940.43 h3 M1408.3,940.43 h-3 M1180.2,938.9 h6 M1408.3,938.9 h-6 M1180.2,928.85 h3 M1408.3,928.85 h-3 M1180.2,922.96 h3 M1408.3,922.96 h-3 M1180.2,918.79 h3 M1408.3,918.79 h-3 M1180.2,915.55 h3 M1408.3,915.55 h-3 M1180.2,912.91 h3 M1408.3,912.91 h-3 M1180.2,910.67 h3 M1408.3,910.67 h-3 M1180.2,908.74 h3 M1408.3,908.74 h-3 M1180.2,907.03 h3 M1408.3,907.03 h-3 M1180.2,905.5 h6 M1408.3,905.5 h-6 M1180.2,895.45 h3 M1408.3,895.45 h-3 M1180.2,889.56 h3 M1408.3,889.56 h-3 M1180.2,885.39 h3 M1408.3,885.39 h-3 M1180.2,882.15 h3 M1408.3,882.15 h-3 M1180.2,879.51 h3 M1408.3,879.51 h-3 M1180.2,877.27 h3 M1408.3,877.27 h-3 M1180.2,875.34 h3 M1408.3,875.34 h-3 M1180.2,873.63 h3 M1408.3,873.63 h-3 M1180.2,872.1 h6 M1408.3,872.1 h-6 M1180.2,862.05 h3 M1408.3,862.05 h-3 M1180.2,856.16 h3 M1408.3,856.16 h-3 M1180.2,851.99 h3 M1408.3,851.99 h-3 M1180.2,848.75 h3 M1408.3,848.75 h-3 M1180.2,846.11 h3 M1408.3,846.11 h-3 M1180.2,843.87 h3 M1408.3,843.87 h-3 M1180.2,841.94 h3 M1408.3,841.94 h-3 M1180.2,840.23 h3 M1408.3,840.23 h-3 M1180.2,838.7 h6 M1408.3,838.7 h-6 M1180.2,828.65 h3 M1408.3,828.65 h-3 M1180.2,822.76 h3 M1408.3,822.76 h-3 M1180.2,818.59 h3 M1408.3,818.59 h-3 M1180.2,815.35 h3 M1408.3,815.35 h-3 M1180.2,812.71 h3 M1408.3,812.71 h-3 M1180.2,810.47 h3 M1408.3,810.47 h-3 M1180.2,808.54 h3 M1408.3,808.54 h-3 M1180.2,806.83 h3 M1408.3,806.83 h-3" stroke="#000" stroke-width="1.8" fill="none"/>
<g font-family="Liberation Sans" font-size="29.8">
<text x="1131.5" y="979.7">10<tspan font-size="15" dy="-10.5">4</tspan></text>
<text x="1131.5" y="946.3">10<tspan font-size="15" dy="-10.5">5</tspan></text>
<text x="1131.5" y="912.9">10<tspan font-size="15" dy="-10.5">6</tspan></text>
<text x="1131.5" y="879.5">10<tspan font-size="15" dy="-10.5">7</tspan></text>
<text x="1131.5" y="846.1">10<tspan font-size="15" dy="-10.5">8</tspan></text>
<text x="1131.5" y="812.7">10<tspan font-size="15" dy="-10.5">9</tspan></text>
<text x="1199.21" y="1019" text-anchor="middle">6</text>
<text x="1237.22" y="1019" text-anchor="middle">7</text>
<text x="1275.24" y="1019" text-anchor="middle">8</text>
<text x="1313.26" y="1019" text-anchor="middle">9</text>
<text x="1351.28" y="1019" text-anchor="middle">10</text>
<text x="1389.29" y="1019" text-anchor="middle">11</text>
</g>
<text font-family="Liberation Sans" font-size="30.2" x="1204" y="1049.4">No. of Layers</text>
<text font-family="Liberation Sans" font-size="30.8" transform="translate(1118.8,893.8) rotate(-90)" text-anchor="middle"><tspan font-style="italic">RA</tspan> (Ω μm²)</text>
<text font-family="Liberation Sans" font-size="37.5" fill="#ff0000" transform="translate(1252.5,874.9) scale(0.82,1)">AP</text>
<text font-family="Liberation Sans" font-size="36.5" fill="#0000ff" transform="translate(1331.5,942.1) scale(0.88,1)">P</text>
<g font-family="Liberation Sans" font-weight="bold" font-size="55">
<text transform="translate(19.5,47.5) scale(0.9,1)">a</text>
<text x="808.5" y="47.3">b</text>
<text x="18.5" y="609.2">c</text>
<text x="809.5" y="609">d</text>
</g>
</svg>
</body></html>
